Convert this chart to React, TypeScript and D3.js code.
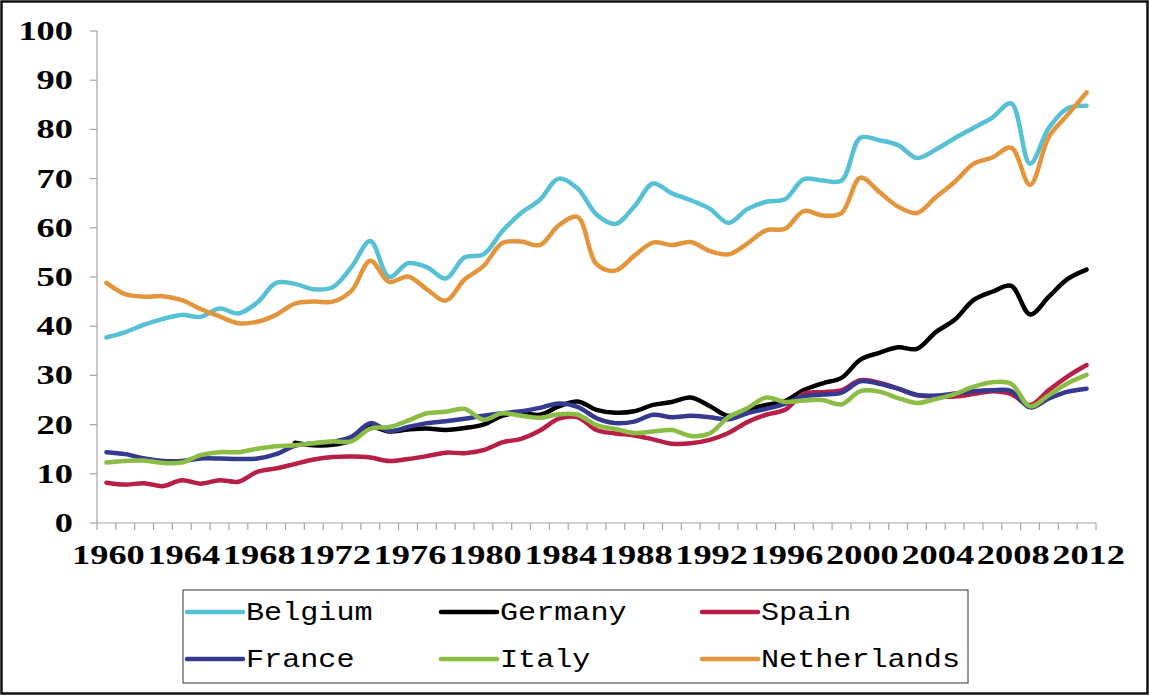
import React from 'react';
import * as d3 from 'd3';

const years = d3.range(1960, 2013).map(String);
const yTicks = [0, 10, 20, 30, 40, 50, 60, 70, 80, 90, 100];
const xLabels = ['1960', '1964', '1968', '1972', '1976', '1980', '1984', '1988', '1992', '1996', '2000', '2004', '2008', '2012'];

const belgium = [37.7, 38.8, 40.3, 41.5, 42.3, 41.9, 43.6, 42.6, 44.8, 48.8,
  48.6, 47.5, 47.9, 52.0, 57.3, 50.0, 52.8, 52.0, 49.7, 54.0,
  54.6, 59.3, 63.0, 65.7, 70.0, 68.0, 62.7, 60.8, 64.3, 69.0,
  67.0, 65.6, 63.9, 61.0, 63.8, 65.3, 65.8, 69.9, 69.6, 69.6,
  78.3, 77.8, 76.8, 74.2, 75.9, 78.2, 80.3, 82.4, 85.3, 73.0,
  80.3, 84.3, 84.8];
const germany = [null, null, null, null, null, null, null, null, null, null,
  16.3, 15.8, 15.9, 16.8, 19.5, 18.6, 19.0, 19.2, 18.9, 19.3,
  20.0, 21.8, 22.4, 22.0, 23.7, 24.7, 23.0, 22.4, 22.7, 24.0,
  24.6, 25.5, 23.8, 21.8, 23.0, 24.0, 24.8, 27.0, 28.4, 29.5,
  33.2, 34.6, 35.7, 35.4, 38.8, 41.3, 45.3, 47.0, 48.2, 42.4,
  46.0, 49.6, 51.5];
const spain = [8.2, 7.8, 8.1, 7.5, 8.7, 8.0, 8.7, 8.4, 10.4, 11.1,
  12.0, 12.9, 13.4, 13.5, 13.3, 12.6, 13.0, 13.6, 14.3, 14.2,
  14.8, 16.4, 17.1, 18.8, 21.2, 21.5, 18.9, 18.2, 17.8, 17.0,
  16.1, 16.2, 16.9, 18.3, 20.5, 22.0, 23.0, 26.3, 26.6, 27.0,
  29.0, 28.5, 27.3, 26.0, 25.7, 25.7, 26.2, 26.8, 26.2, 24.0,
  27.0, 29.8, 32.1];
const france = [14.4, 14.0, 13.1, 12.6, 12.6, 13.1, 13.1, 13.0, 13.1, 14.0,
  15.7, 16.2, 16.5, 17.5, 20.3, 18.7, 19.5, 20.3, 20.7, 21.2,
  21.8, 22.3, 22.7, 23.4, 24.3, 23.6, 21.3, 20.3, 20.6, 22.0,
  21.5, 21.8, 21.5, 21.1, 22.3, 23.2, 24.2, 25.8, 26.1, 26.5,
  28.8, 28.3, 27.3, 26.0, 25.9, 26.3, 26.8, 27.0, 26.8, 23.5,
  25.3, 26.7, 27.3];
const italy = [12.3, 12.6, 12.7, 12.2, 12.3, 13.8, 14.4, 14.4, 15.1, 15.6,
  15.8, 16.2, 16.6, 16.6, 19.2, 19.5, 20.8, 22.3, 22.6, 23.2,
  21.0, 22.3, 21.8, 21.4, 22.1, 22.0, 19.9, 19.1, 18.3, 18.6,
  18.9, 17.7, 18.2, 21.5, 23.3, 25.5, 24.6, 24.9, 25.0, 24.1,
  26.8, 26.7, 25.4, 24.4, 25.2, 26.2, 27.7, 28.6, 28.3, 23.7,
  26.0, 28.4, 30.1];
const netherlands = [48.8, 46.5, 46.0, 46.1, 45.3, 43.5, 42.0, 40.6, 40.9, 42.3,
  44.6, 45.0, 45.0, 47.2, 53.3, 49.0, 50.1, 47.5, 45.2, 49.5,
  52.2, 56.9, 57.2, 56.5, 60.5, 62.2, 52.6, 51.3, 54.3, 57.0,
  56.5, 57.1, 55.3, 54.6, 56.8, 59.5, 59.8, 63.4, 62.5, 63.0,
  70.2, 67.3, 64.3, 63.0, 66.2, 69.3, 73.0, 74.3, 76.3, 68.7,
  78.5, 83.0, 87.5];

const seriesNames = ['Belgium', 'Germany', 'Spain', 'France', 'Italy', 'Netherlands'];
const seriesValues = [belgium, germany, spain, france, italy, netherlands];
const seriesColors = ['#56c0d4', '#000000', '#b81f47', '#35398f', '#8bbd45', '#e4953b'];

const App = () => {
  const svgRef = React.useRef(null);
  const width = 1149;
  const height = 697;

  React.useEffect(() => {
    const svg = d3.select(svgRef.current);
    svg.selectAll('*').remove();

    const x = d3.scaleBand().domain(years).range([97, 1096]).padding(0);
    const y = d3.scaleLinear().domain([0, 100]).range([523, 31]);
    const cx = (yr) => x(yr) + x.bandwidth() / 2;

    // outer frame
    svg.append('rect')
      .attr('x', 1.5).attr('y', 1.5)
      .attr('width', width - 3).attr('height', 692)
      .attr('fill', 'white')
      .attr('stroke', '#111').attr('stroke-width', 2.5);

    // y axis
    svg.append('line')
      .attr('x1', 97).attr('x2', 97)
      .attr('y1', y(100)).attr('y2', y(0))
      .attr('stroke', '#a6a6a6').attr('stroke-width', 1.2);
    svg.selectAll('.ytick')
      .data(yTicks)
      .join('line')
      .attr('x1', 90).attr('x2', 97)
      .attr('y1', d => y(d)).attr('y2', d => y(d))
      .attr('stroke', '#a6a6a6').attr('stroke-width', 1.2);
    svg.selectAll('.ylab')
      .data(yTicks)
      .join('text')
      .attr('transform', d => `translate(73,${y(d) + 9}) scale(1.3,1)`)
      .attr('text-anchor', 'end')
      .style('font-family', '"Liberation Serif", "Times New Roman", serif')
      .style('font-weight', 'bold')
      .style('font-size', '28px')
      .text(d => d);

    // x axis
    svg.append('line')
      .attr('x1', 97).attr('x2', 1096)
      .attr('y1', y(0)).attr('y2', y(0))
      .attr('stroke', '#a6a6a6').attr('stroke-width', 1.2);
    const bounds = years.map(yr => x(yr)).concat([x(years[years.length - 1]) + x.bandwidth()]);
    svg.selectAll('.xtick')
      .data(bounds)
      .join('line')
      .attr('x1', d => d).attr('x2', d => d)
      .attr('y1', y(0)).attr('y2', y(0) + 7)
      .attr('stroke', '#a6a6a6').attr('stroke-width', 1.2);
    svg.selectAll('.xlab')
      .data(xLabels)
      .join('text')
      .attr('transform', d => `translate(${cx(d) + 2},564) scale(1.3,1)`)
      .attr('text-anchor', 'middle')
      .style('font-family', '"Liberation Serif", "Times New Roman", serif')
      .style('font-weight', 'bold')
      .style('font-size', '28px')
      .text(d => d);

    // lines
    const line = d3.line()
      .x(d => cx(d[0]))
      .y(d => y(d[1]))
      .curve(d3.curveCatmullRom.alpha(0.5));

    seriesValues.forEach((vals, i) => {
      svg.append('path')
        .datum(years.map((yr, j) => [yr, vals[j]]).filter(d => d[1] != null))
        .attr('d', line)
        .attr('fill', 'none')
        .attr('stroke', seriesColors[i])
        .attr('stroke-width', 4.5)
        .attr('stroke-linejoin', 'round')
        .attr('stroke-linecap', 'round');
    });

    // legend
    svg.append('rect')
      .attr('x', 183).attr('y', 590)
      .attr('width', 785).attr('height', 93)
      .attr('fill', 'white')
      .attr('stroke', '#333').attr('stroke-width', 1);
    const colX = [187, 441, 702];
    const rowY = [612, 659];
    const lg = svg.selectAll('.lg')
      .data(seriesNames)
      .join('g')
      .attr('transform', (d, i) => `translate(${colX[i % 3]},${rowY[Math.floor(i / 3)]})`);
    lg.append('line')
      .attr('x1', 0).attr('x2', 56)
      .attr('y1', 0).attr('y2', 0)
      .attr('stroke', (d, i) => seriesColors[i])
      .attr('stroke-width', 4.5)
      .attr('stroke-linecap', 'round');
    lg.append('text')
      .attr('transform', 'translate(59,8) scale(1.16,1)')
      .style('font-family', '"Liberation Mono", "DejaVu Sans Mono", monospace')
      .style('font-size', '26px')
      .text(d => d);
  }, []);

  return <svg ref={svgRef} width={width} height={height} style={{ position: 'absolute', left: 0, top: 0 }} />;
};

export default App;
